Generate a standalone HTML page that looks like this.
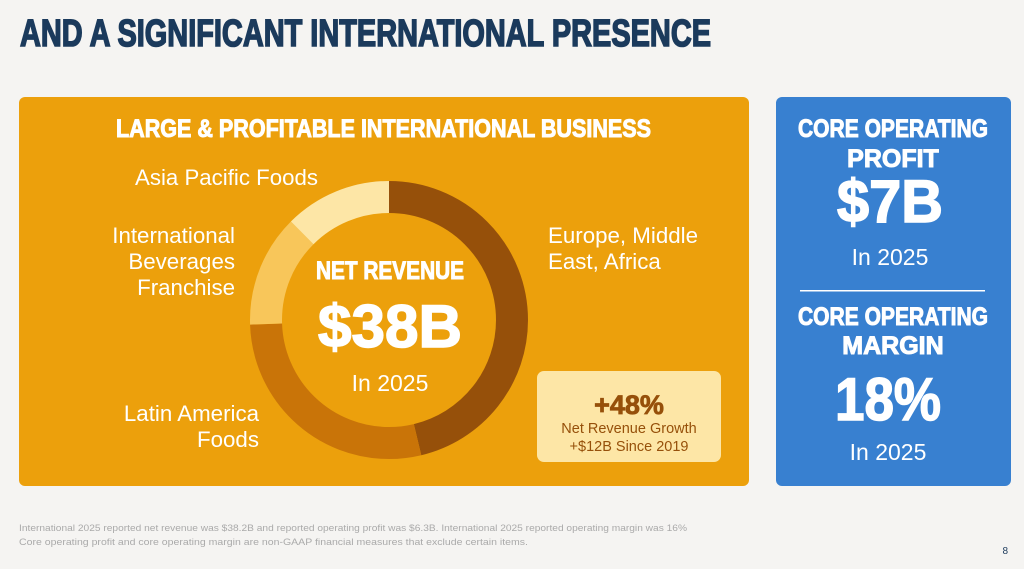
<!DOCTYPE html>
<html><head><meta charset="utf-8"><style>
html,body{margin:0;padding:0;background:#f5f4f2;}
svg{display:block;}
.h{font-family:"Liberation Sans",sans-serif;font-weight:bold;}
.r{font-family:"Liberation Sans",sans-serif;}
</style></head><body>
<svg width="1024" height="569" viewBox="0 0 1024 569" xmlns="http://www.w3.org/2000/svg">
<rect width="1024" height="569" fill="#f5f4f2"/>
<text class="h" x="20" y="46" font-size="38" fill="#1b3a5c" stroke="#1b3a5c" stroke-width="1.6" textLength="691" lengthAdjust="spacingAndGlyphs">AND A SIGNIFICANT INTERNATIONAL PRESENCE</text>
<rect x="19" y="97" width="730" height="389" rx="6" fill="#eca00c"/>
<rect x="776" y="97" width="235" height="389" rx="6" fill="#3880d0"/>
<text class="h" x="116" y="137" font-size="25" fill="#fff" stroke="#fff" stroke-width="1" textLength="535" lengthAdjust="spacingAndGlyphs">LARGE &amp; PROFITABLE INTERNATIONAL BUSINESS</text>
<g transform="rotate(-90 389 320)" fill="none" stroke-width="32">
<circle cx="389" cy="320" r="123" stroke="#96500a" stroke-dasharray="357.4 1000" stroke-dashoffset="0"/>
<circle cx="389" cy="320" r="123" stroke="#c97408" stroke-dasharray="217.9 1000" stroke-dashoffset="-357.4"/>
<circle cx="389" cy="320" r="123" stroke="#f8c65a" stroke-dasharray="100.9 1000" stroke-dashoffset="-575.3"/>
<circle cx="389" cy="320" r="123" stroke="#fde6a6" stroke-dasharray="96.6 1000" stroke-dashoffset="-676.2"/>
</g>
<g class="r" font-size="22.3" fill="#fff">
<text x="135" y="185" textLength="183" lengthAdjust="spacingAndGlyphs">Asia Pacific Foods</text>
<text x="235" y="243" text-anchor="end">International</text>
<text x="235" y="269" text-anchor="end">Beverages</text>
<text x="235" y="295" text-anchor="end">Franchise</text>
<text x="548" y="243">Europe, Middle</text>
<text x="548" y="269">East, Africa</text>
<text x="259" y="421" text-anchor="end">Latin America</text>
<text x="259" y="447" text-anchor="end">Foods</text>
<text x="390" y="391" text-anchor="middle" font-size="23">In 2025</text>
</g>
<text class="h" x="316" y="279" font-size="25" fill="#fff" stroke="#fff" stroke-width="1" textLength="148" lengthAdjust="spacingAndGlyphs">NET REVENUE</text>
<text class="h" x="318" y="347" font-size="60" fill="#fff" stroke="#fff" stroke-width="1.5" textLength="144" lengthAdjust="spacingAndGlyphs">$38B</text>
<rect x="537" y="371" width="184" height="91" rx="7" fill="#fde6a6"/>
<text class="h" x="629" y="414" font-size="27" fill="#96500a" stroke="#96500a" stroke-width="0.8" text-anchor="middle">+48%</text>
<text class="r" x="629" y="433" font-size="14.5" fill="#96500a" text-anchor="middle">Net Revenue Growth</text>
<text class="r" x="629" y="451" font-size="14.5" fill="#96500a" text-anchor="middle">+$12B Since 2019</text>
<g fill="#fff">
<text class="h" x="798" y="137" font-size="25" stroke="#fff" stroke-width="1" textLength="190" lengthAdjust="spacingAndGlyphs">CORE OPERATING</text>
<text class="h" x="893" y="167" font-size="25" stroke="#fff" stroke-width="1" text-anchor="middle">PROFIT</text>
<text class="h" x="890" y="222" font-size="60" stroke="#fff" stroke-width="1.5" text-anchor="middle" textLength="106" lengthAdjust="spacingAndGlyphs">$7B</text>
<text class="r" x="890" y="265" font-size="23" text-anchor="middle">In 2025</text>
<rect x="800" y="290" width="185" height="1.5"/>
<text class="h" x="798" y="325" font-size="25" stroke="#fff" stroke-width="1" textLength="190" lengthAdjust="spacingAndGlyphs">CORE OPERATING</text>
<text class="h" x="893" y="354" font-size="25" stroke="#fff" stroke-width="1" text-anchor="middle">MARGIN</text>
<text class="h" x="888" y="420" font-size="60" stroke="#fff" stroke-width="1.5" text-anchor="middle" textLength="106" lengthAdjust="spacingAndGlyphs">18%</text>
<text class="r" x="888" y="460" font-size="23" text-anchor="middle">In 2025</text>
</g>
<g class="r" font-size="9.5" fill="#aaa">
<text x="19" y="531" textLength="668" lengthAdjust="spacingAndGlyphs">International 2025 reported net revenue was $38.2B and reported operating profit was $6.3B. International 2025 reported operating margin was 16%</text>
<text x="19" y="545" textLength="509" lengthAdjust="spacingAndGlyphs">Core operating profit and core operating margin are non-GAAP financial measures that exclude certain items.</text>
</g>
<text class="r" x="1008" y="554" font-size="10" fill="#1b3a5c" text-anchor="end">8</text>
</svg>
</body></html>
